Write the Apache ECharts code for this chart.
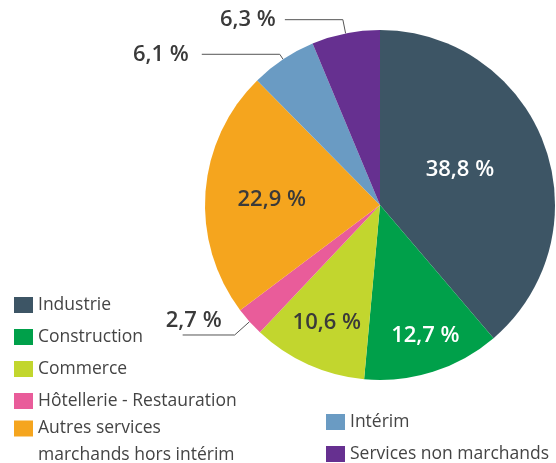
<!DOCTYPE html>
<html><head><meta charset="utf-8">
<script src="https://cdn.jsdelivr.net/npm/echarts@6/dist/echarts.min.js"></script>
<style>html,body{margin:0;padding:0;background:#fff}#c{width:556px;height:463px}</style>
</head><body><div id="c"></div>
<script>
const categories = ['Industrie','Construction','Commerce','Hôtellerie - Restauration','Autres services marchands hors intérim','Intérim','Services non marchands'];
const values = [38.8, 12.7, 10.6, 2.7, 22.9, 6.1, 6.3];
const colors = ['#3d5565','#00a04a','#c2d62e','#e95c9a','#f5a51e','#6a9bc3','#663090'];

const FONT = '"Open Sans", "Noto Sans", sans-serif';
const fmt = v => v.toFixed(1).replace('.', ',') + ' %';

// per-slice label styling (position/offset are layout, not data)
const labelCfg = [
  { position: 'inside', offset: [-5, -4], color: '#ffffff' },
  { position: 'inside', offset: [18, 44], color: '#ffffff' },
  { position: 'inside', offset: [-16, 35], color: '#3a3a3a' },
  { position: 'outside', color: '#3a3a3a', padding: [0, -44, 0, 0] },
  { position: 'inside', offset: [-18, 1], color: '#3a3a3a' },
  { position: 'outside', color: '#3a3a3a', padding: [0, 8, 0, 0] },
  { position: 'outside', color: '#3a3a3a', padding: [0, 4, 0, 0] }
];
const raised = [false, false, false, true, false, false, false];
const lineCfg = [null, null, null, [20, 52], null, [6, 78], [14, 58]];

const data = categories.map((name, i) => ({
  name,
  value: values[i],
  itemStyle: { color: colors[i] },
  label: Object.assign({ show: true }, labelCfg[i]),
  labelLine: lineCfg[i] ? { show: true, length: lineCfg[i][0], length2: lineCfg[i][1] } : { show: false }
}));

const legendText = { fontFamily: FONT, fontSize: 17.5, fontWeight: 500, color: '#444', lineHeight: 27 };
// long name wrapped; leading empty line keeps the first line level with the icon
const legendFmt = n => n === 'Autres services marchands hors intérim' ? '\nAutres services\nmarchands hors intérim' : n;
const legendBase = {
  orient: 'vertical', height: 400, width: 300, padding: 0,
  itemWidth: 19, itemHeight: 16, itemGap: 5,
  icon: 'rect', selectedMode: false,
  formatter: legendFmt,
  textStyle: legendText
};

const chart = echarts.init(document.getElementById('c'), null, { renderer: 'canvas' });
chart.setOption({
  animation: false,
  legend: [
    Object.assign({ data: categories.slice(0, 4), left: 14, top: 291.5 }, legendBase),
    Object.assign({ data: categories.slice(4, 5), left: 14, top: 388 }, legendBase),
    Object.assign({ data: categories.slice(5), left: 326, top: 408.5 }, legendBase)
  ],
  series: [{
    type: 'pie',
    center: [380, 205],
    radius: [0, 175],
    startAngle: 90,
    clockwise: true,
    avoidLabelOverlap: false,
    label: {
      formatter: p => raised[p.dataIndex] ? fmt(p.value) + '\n{s| }' : fmt(p.value),
      fontFamily: FONT, fontSize: 22, fontWeight: 600, lineHeight: 28,
      rich: { s: { height: 28, fontSize: 8 } }
    },
    labelLine: { length: 14, length2: 50, lineStyle: { color: '#555', width: 1 } },
    emphasis: { disabled: true },
    data
  }]
});
</script></body></html>
